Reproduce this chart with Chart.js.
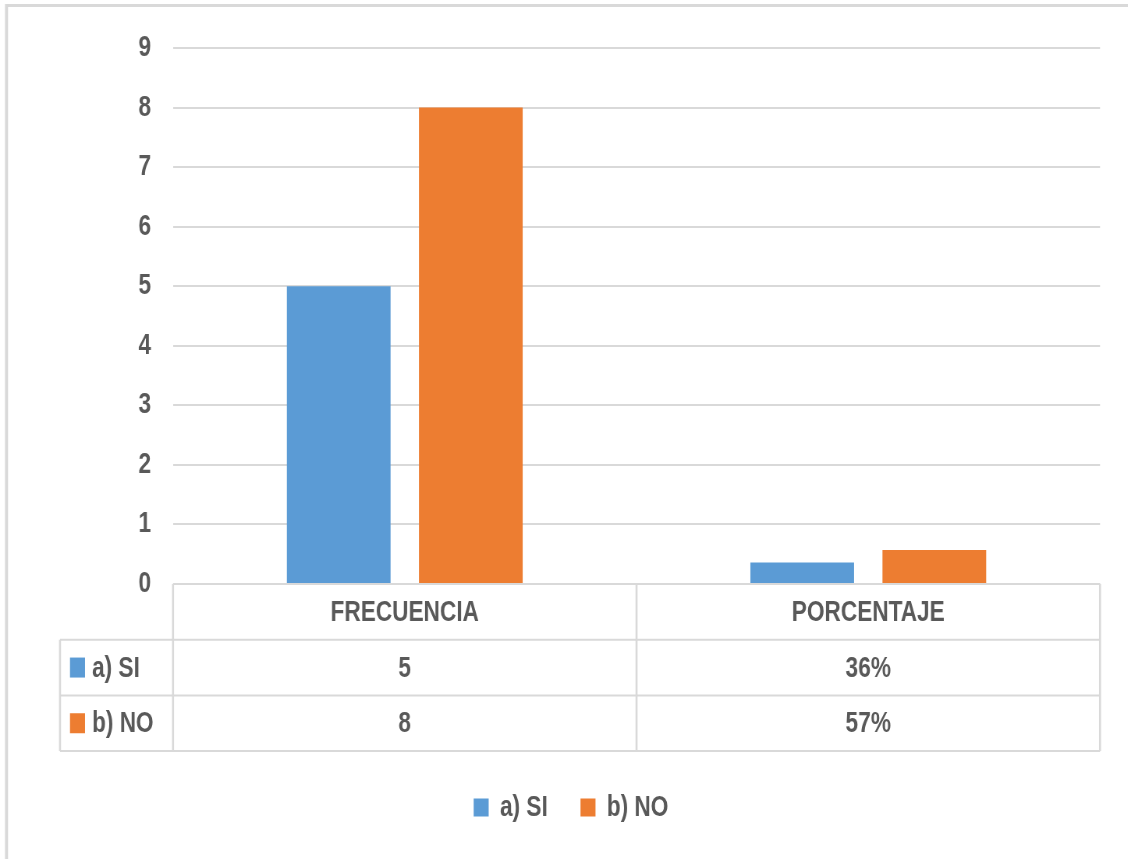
<!DOCTYPE html>
<html>
<head>
<meta charset="utf-8">
<title>FRECUENCIA / PORCENTAJE</title>
<script src="https://cdn.jsdelivr.net/npm/chart.js@4.4.1/dist/chart.umd.min.js"></script>
<style>
  html, body { margin: 0; padding: 0; background: #ffffff; overflow: hidden; }
  #wrap { width: 1128px; height: 859px; overflow: hidden; position: relative; }
  #chart { display: block; transform-origin: 0 0; }
</style>
</head>
<body>
<div id="wrap"><canvas id="chart"></canvas></div>
<script>
// Categories, series and tick values
const categories = ['FRECUENCIA', 'PORCENTAJE'];
const seriesNames = ['a) SI', 'b) NO'];
const siValues = [5, 0.36];
const noValues = [8, 0.57];
const yTicks = [0, 1, 2, 3, 4, 5, 6, 7, 8, 9];
// How each category's column is written in the data table
const columnFormats = ['number', 'percent'];

const seriesColors = ['#5b9bd5', '#ed7d31'];
const TEXT = '#595959';
const LINE = '#d9d9d9';
const FONT = "'Liberation Sans', Arial, sans-serif";
const FONT_SIZE = 29;

// The chart is laid out on a wider canvas and squeezed horizontally,
// which gives the tall, condensed lettering.
const PAGE_W = 1128, PAGE_H = 859;
const SQUEEZE = 0.78;
const W = Math.round(PAGE_W / SQUEEZE);
const sx = x => x / SQUEEZE;   // page x -> canvas x

const canvas = document.getElementById('chart');
canvas.width = W;
canvas.height = PAGE_H;
canvas.style.transform = `scaleX(${SQUEEZE})`;

Chart.defaults.font.family = FONT;
Chart.defaults.font.weight = 'bold';
Chart.defaults.font.size = FONT_SIZE;
Chart.defaults.color = TEXT;

function formatValue(v, catIndex) {
  if (columnFormats[catIndex] === 'percent') return Math.round(v * 100) + '%';
  return String(v);
}

// White background and the thin frame along the top and left edges
const framePlugin = {
  id: 'frame',
  afterLayout(chart) {
    // centre the legend row under the whole chart box rather than the plot
    const shift = sx(21);
    chart.legend.left += shift;
    chart.legend.right += shift;
  },
  beforeDraw(chart) {
    const { ctx, width, height } = chart;
    ctx.save();
    ctx.fillStyle = '#ffffff';
    ctx.fillRect(0, 0, width, height);
    ctx.strokeStyle = LINE;
    ctx.lineWidth = 3;
    ctx.beginPath();
    ctx.moveTo(sx(6), 5.5);
    ctx.lineTo(width, 5.5);
    ctx.stroke();
    ctx.lineWidth = sx(3);
    ctx.beginPath();
    ctx.moveTo(sx(6.5), height);
    ctx.lineTo(sx(6.5), 4);
    ctx.stroke();
    ctx.restore();
  }
};

// Data table under the plot: category header row and one row per series
const dataTablePlugin = {
  id: 'dataTable',
  afterDraw(chart) {
    const { ctx, chartArea } = chart;
    const xScale = chart.scales.x;
    const n = categories.length;
    const colW = (chartArea.right - chartArea.left) / n;
    const rowH = 55.7;
    const top = chartArea.bottom;
    const keyLeft = sx(60);
    const rows = chart.data.datasets.length;
    const bottom = top + rowH * (rows + 1);

    ctx.save();
    ctx.strokeStyle = LINE;
    // horizontal rules
    ctx.lineWidth = 2;
    ctx.beginPath();
    ctx.moveTo(chartArea.left, top);
    ctx.lineTo(chartArea.right, top);
    for (let r = 1; r <= rows + 1; r++) {
      const y = top + rowH * r;
      ctx.moveTo(keyLeft, y);
      ctx.lineTo(chartArea.right, y);
    }
    ctx.stroke();
    // vertical rules
    ctx.lineWidth = sx(2);
    ctx.beginPath();
    for (let c = 0; c <= n; c++) {
      const x = chartArea.left + colW * c;
      ctx.moveTo(x, top);
      ctx.lineTo(x, bottom);
    }
    ctx.moveTo(keyLeft, top + rowH);
    ctx.lineTo(keyLeft, bottom);
    ctx.stroke();

    ctx.fillStyle = TEXT;
    ctx.font = `bold ${FONT_SIZE}px ${FONT}`;
    ctx.textBaseline = 'middle';
    ctx.textAlign = 'center';
    categories.forEach((cat, i) => {
      ctx.fillText(cat, xScale.getPixelForValue(i), top + rowH / 2 + 1);
    });

    chart.data.datasets.forEach((ds, r) => {
      const yMid = top + rowH * (r + 1.5);
      ctx.fillStyle = ds.backgroundColor;
      ctx.fillRect(sx(70), yMid - 10, sx(15), 20);
      ctx.fillStyle = TEXT;
      ctx.textAlign = 'left';
      ctx.fillText(ds.label, sx(92), yMid + 1);
      ctx.textAlign = 'center';
      ds.data.forEach((v, i) => {
        ctx.fillText(formatValue(v, i), xScale.getPixelForValue(i), yMid + 1);
      });
    });
    ctx.restore();
  }
};

new Chart(canvas, {
  type: 'bar',
  data: {
    labels: categories,
    datasets: [
      { label: seriesNames[0], data: siValues, backgroundColor: seriesColors[0] },
      { label: seriesNames[1], data: noValues, backgroundColor: seriesColors[1] }
    ]
  },
  options: {
    responsive: false,
    animation: false,
    devicePixelRatio: 1,
    categoryPercentage: 0.57,
    barPercentage: 0.785,
    layout: { padding: { top: 48, right: W - sx(1100), left: 0, bottom: 27 } },
    scales: {
      x: {
        grid: { display: false },
        border: { display: false },
        ticks: { display: false },
        afterFit(scale) { scale.height = 167; }
      },
      y: {
        min: 0,
        max: 9,
        afterBuildTicks(axis) { axis.ticks = yTicks.map(v => ({ value: v })); },
        grid: { color: LINE, lineWidth: 2, drawTicks: false },
        border: { display: false },
        ticks: { padding: sx(173) - sx(151), color: TEXT, font: { size: FONT_SIZE, weight: 'bold' } },
        afterFit(scale) { scale.width = sx(173); }
      }
    },
    plugins: {
      legend: {
        position: 'bottom',
        labels: {
          boxWidth: sx(15),
          boxHeight: 18,
          padding: 42,
          color: TEXT,
          font: { size: FONT_SIZE, weight: 'bold' }
        }
      },
      tooltip: { enabled: false }
    }
  },
  plugins: [framePlugin, dataTablePlugin]
});
</script>
</body>
</html>
